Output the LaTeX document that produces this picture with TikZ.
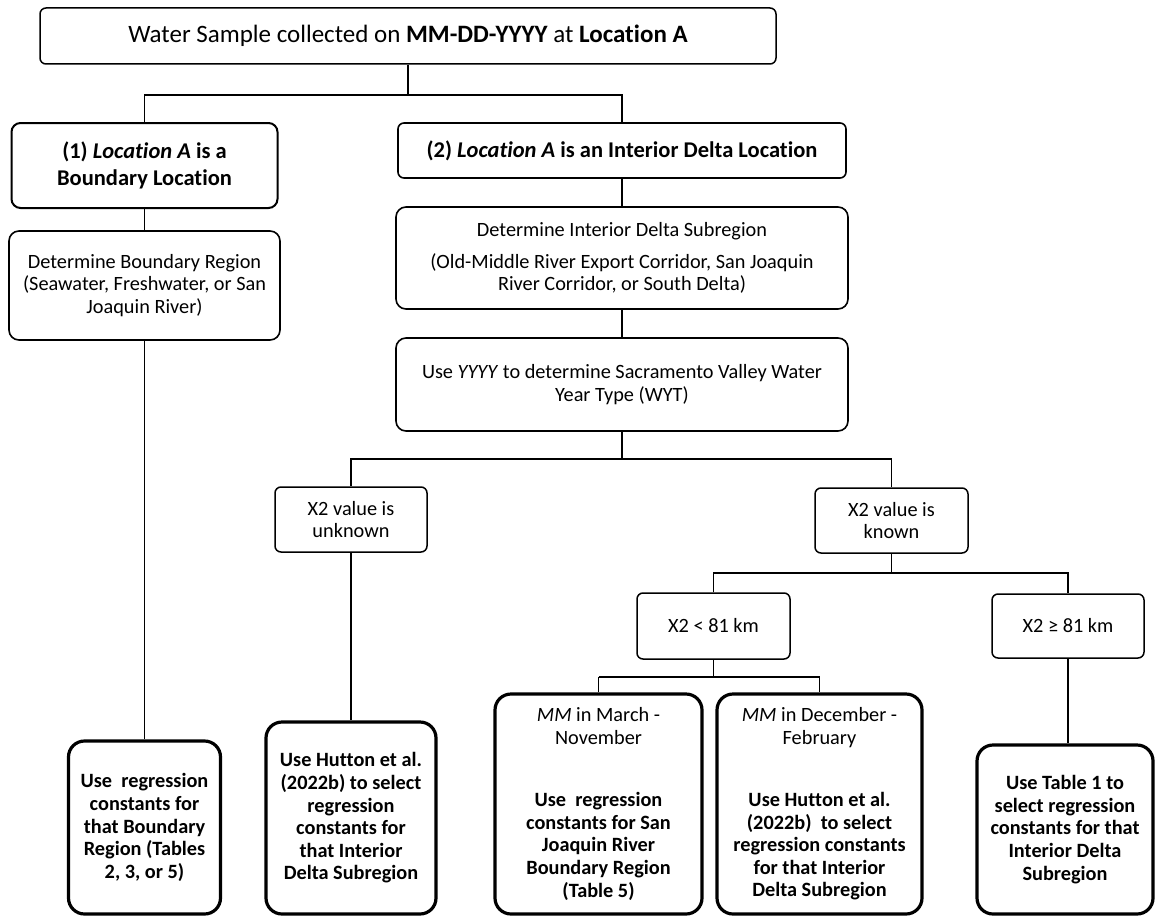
\documentclass[tikz,border=0pt]{standalone}
\usepackage{fontspec}
\setmainfont{Carlito}[Ligatures=NoCommon]
\newcommand\regf{\fontsize{20.3}{22.2}\selectfont}
\newcommand\boldf{\fontsize{20.3}{22.6}\selectfont\bfseries}
\newcommand\headf{\fontsize{22.5}{26.7}\selectfont\bfseries}
\newcommand\titlef{\fontsize{25}{28}\selectfont}
\newcommand\plainl[1]{{\mdseries\regf #1}}
\begin{document}
\begin{tikzpicture}[x=1pt,y=-1pt,
  thinbox/.style={draw, line width=1.5pt, rounded corners=6pt, align=center, inner sep=0pt, font=\regf},
  midbox/.style={draw, line width=1.6pt, rounded corners=10pt, align=center, inner sep=0pt, font=\regf},
  headbox/.style={draw, line width=2pt, rounded corners=9pt, align=center, inner sep=0pt, font=\headf},
  endbox/.style={draw, line width=3.2pt, rounded corners=16pt, align=center, inner sep=0pt, font=\boldf},
  conn/.style={draw, line width=1.5pt}]
\useasboundingbox (0,0) rectangle (1155,915);

\node[thinbox, font=\titlef, minimum width=736pt, minimum height=56pt] (top) at (408,36)
  {Water Sample collected on \textbf{MM-DD-YYYY} at \textbf{Location A}};

\node[headbox, minimum width=266pt, minimum height=85pt] (b1) at (144.5,165.5)
  {(1) \textit{Location A} is a\\Boundary Location};
\node[headbox, line width=1.6pt, rounded corners=6pt, minimum width=448pt, minimum height=55pt] (b2) at (622,150.5)
  {(2) \textit{Location A} is an Interior Delta Location};

\node[midbox, minimum width=271pt, minimum height=109pt] (bnd) at (144.5,285.5)
  {Determine Boundary Region\\(Seawater, Freshwater, or San\\Joaquin River)};

\node[midbox, minimum width=452pt, minimum height=102pt] (idelta) at (622,258)
  {Determine Interior Delta Subregion\\[9pt](Old-Middle River Export Corridor, San Joaquin\\River Corridor, or South Delta)};
\node[midbox, minimum width=452pt, minimum height=93pt] (wyt) at (622,384.5)
  {Use \textit{YYYY} to determine Sacramento Valley Water\\Year Type (WYT)};

\node[thinbox, minimum width=152pt, minimum height=65pt] (unk) at (351,519.5)
  {X2 value is\\unknown};
\node[thinbox, minimum width=153pt, minimum height=65pt] (kn) at (891.5,520.5)
  {X2 value is\\known};
\node[thinbox, minimum width=153pt, minimum height=66pt] (lt) at (713.5,626)
  {X2 < 81 km};
\node[thinbox, minimum width=152pt, minimum height=64pt] (ge) at (1068,626)
  {X2 ≥ 81 km};

\node[endbox, minimum width=152pt, minimum height=173pt] (f1) at (144.5,827.5)
  {Use~ regression\\constants for\\that Boundary\\Region (Tables\\2, 3, or 5)};
\node[endbox, minimum width=170pt, minimum height=192pt] (f2) at (351,818)
  {Use Hutton et al.\\(2022b) to select\\regression\\constants for\\that Interior\\Delta Subregion};
\node[endbox, minimum width=207pt, minimum height=220pt] (f3) at (598.5,804)
  {\plainl{\textit{MM} in March -}\\\plainl{November}\\[39.5pt]Use~ regression\\constants for San\\Joaquin River\\Boundary Region\\(Table 5)};
\node[endbox, minimum width=205pt, minimum height=220pt] (f4) at (819.5,804)
  {\plainl{\textit{MM} in December -}\\\plainl{February}\\[39.5pt]Use Hutton et al.\\(2022b)~ to select\\regression constants\\for that Interior\\Delta Subregion};
\node[endbox, minimum width=176pt, minimum height=169pt] (f5) at (1065,829.5)
  {Use Table 1 to\\select regression\\constants for that\\Interior Delta\\Subregion};

\coordinate (j1) at (408,95);
\coordinate (j2) at (622,459);
\coordinate (j3) at (891.5,573);
\coordinate (j4) at (713.5,677);

\draw[conn] (top.south) -- (j1);
\draw[conn] (b1.north) -- (b1.north |- j1) -- (b2.north |- j1) -- (b2.north);
\draw[conn] (b1.south) -- (bnd.north);
\draw[conn] (bnd.south) -- (bnd.south |- f1.north);
\draw[conn] (b2.south) -- (idelta.north);
\draw[conn] (idelta.south) -- (wyt.north);
\draw[conn] (wyt.south) -- (j2);
\draw[conn] (unk.north) -- (unk.north |- j2) -- (kn.north |- j2) -- (kn.north);
\draw[conn] (unk.south) -- (f2.north);
\draw[conn] (kn.south) -- (j3);
\draw[conn] (lt.north) -- (lt.north |- j3) -- (ge.north |- j3) -- (ge.north);
\draw[conn] (lt.south) -- (j4);
\draw[conn] (f3.north |- j4) -- (f4.north |- j4);
\draw[conn] (f3.north |- j4) -- (f3.north);
\draw[conn] (f4.north |- j4) -- (f4.north);
\draw[conn] (ge.south) -- (ge.south |- f5.north);
\end{tikzpicture}
\end{document}
